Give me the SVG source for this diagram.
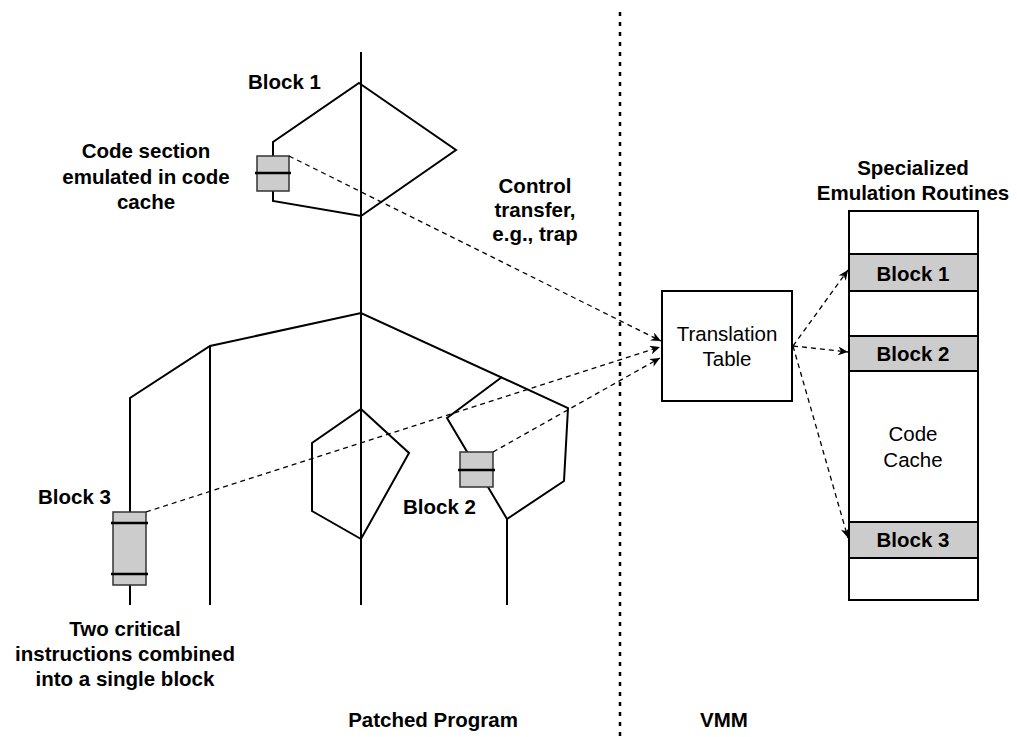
<svg xmlns="http://www.w3.org/2000/svg" width="1017" height="737" viewBox="0 0 1017 737">
<style>
.ln{fill:none;stroke:#000;stroke-width:2;stroke-linejoin:miter}
.gb{fill:#cccccc;stroke:#333;stroke-width:1.5}
.bar{stroke:#000;stroke-width:2.5}
.cn{fill:none;stroke:#000;stroke-width:1.3;stroke-dasharray:5 4}
.b{font-family:"Liberation Sans",Arial,Helvetica,sans-serif;font-weight:bold;font-size:20.5px;fill:#000}
.r{font-family:"Liberation Sans",Arial,Helvetica,sans-serif;font-size:20.5px;fill:#000}
.cache{fill:#fff;stroke:#000;stroke-width:2}
.row{fill:#cccccc;stroke:#000;stroke-width:2}
</style>
<defs>
<marker id="ah" markerWidth="11" markerHeight="9" refX="10" refY="4.5" orient="auto" markerUnits="userSpaceOnUse">
<path d="M0,0 L10,4.5 L0,9 L3,4.5 Z" fill="#000"/>
</marker>
</defs>
<rect width="1017" height="737" fill="#fff"/>

<g id="divider">
<line x1="620" y1="12" x2="620" y2="737" stroke="#000" stroke-width="2.5" stroke-dasharray="4 6"/>
</g>

<g id="program-tree">
<line class="ln" x1="361" y1="52" x2="361" y2="605"/>
<polyline class="ln" points="130,605 130,398 210,346 361,313 568,408 564,481 507,519 507,605"/>
<line class="ln" x1="210" y1="346" x2="210" y2="605"/>
</g>

<g id="block1-shape">
<polygon class="ln" points="359,83 456,150 361,216 273,201 273,142"/>
<rect class="gb" x="257" y="156" width="32" height="35"/>
<line class="bar" x1="255" y1="173" x2="291" y2="173"/>
</g>

<g id="middle-shape">
<polygon class="ln" points="361,409 409,453 361,539 312,511 312,443"/>
</g>

<g id="block2-shape">
<polyline class="ln" points="502,377 447,418 507,519"/>
<rect class="gb" x="460" y="452" width="33" height="35"/>
<line class="bar" x1="458" y1="470" x2="495" y2="470"/>
</g>

<g id="block3-shape">
<rect class="gb" x="113" y="512" width="33" height="73"/>
<line class="bar" x1="111" y1="523" x2="148" y2="523"/>
<line class="bar" x1="111" y1="574" x2="148" y2="574"/>
</g>

<g id="connectors">
<line class="cn" x1="289" y1="156" x2="661" y2="341" marker-end="url(#ah)"/>
<line class="cn" x1="146" y1="512" x2="660" y2="347" marker-end="url(#ah)"/>
<line class="cn" x1="493" y1="452" x2="660" y2="358" marker-end="url(#ah)"/>
<line class="cn" x1="793" y1="346" x2="848" y2="270" marker-end="url(#ah)"/>
<line class="cn" x1="793" y1="346" x2="848" y2="352" marker-end="url(#ah)"/>
<line class="cn" x1="793" y1="346" x2="848" y2="538" marker-end="url(#ah)"/>
</g>

<g id="translation-table">
<rect x="662" y="291" width="130" height="110" fill="#fff" stroke="#000" stroke-width="2"/>
<text class="r" x="727" y="341" text-anchor="middle">Translation</text>
<text class="r" x="727" y="366" text-anchor="middle">Table</text>
</g>

<g id="code-cache">
<rect class="cache" x="849" y="211" width="129" height="389"/>
<rect class="row" x="849" y="254" width="129" height="37"/>
<rect class="row" x="849" y="336" width="129" height="35"/>
<rect class="row" x="849" y="522" width="129" height="36"/>
<text class="b" x="913" y="281" text-anchor="middle">Block 1</text>
<text class="b" x="913" y="361" text-anchor="middle">Block 2</text>
<text class="b" x="913" y="547" text-anchor="middle">Block 3</text>
<text class="r" x="913" y="441" text-anchor="middle">Code</text>
<text class="r" x="913" y="467" text-anchor="middle">Cache</text>
</g>

<g id="labels">
<text class="b" x="913" y="175" text-anchor="middle">Specialized</text>
<text class="b" x="913" y="200" text-anchor="middle">Emulation Routines</text>
<text class="b" x="248" y="89">Block 1</text>
<text class="b" x="403" y="514">Block 2</text>
<text class="b" x="38" y="504">Block 3</text>
<text class="b" x="146" y="158" text-anchor="middle">Code section</text>
<text class="b" x="146" y="184" text-anchor="middle">emulated in code</text>
<text class="b" x="146" y="209" text-anchor="middle">cache</text>
<text class="b" x="535" y="193" text-anchor="middle">Control</text>
<text class="b" x="535" y="217" text-anchor="middle">transfer,</text>
<text class="b" x="535" y="241" text-anchor="middle">e.g., trap</text>
<text class="b" x="125" y="636" text-anchor="middle">Two critical</text>
<text class="b" x="125" y="661" text-anchor="middle">instructions combined</text>
<text class="b" x="125" y="686" text-anchor="middle">into a single block</text>
<text class="b" x="433" y="727" text-anchor="middle">Patched Program</text>
<text class="b" x="724" y="727" text-anchor="middle">VMM</text>
</g>
</svg>
